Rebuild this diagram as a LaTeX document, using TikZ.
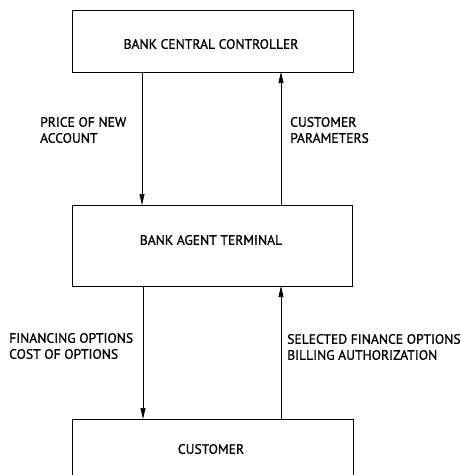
\documentclass[tikz,border=0pt]{standalone}
\usepackage{fontspec}
\setmainfont{PT Sans}
\newfontfamily\lblfont{PT Sans}[FakeBold=0.9]
\usetikzlibrary{arrows.meta}
\begin{document}
\begin{tikzpicture}[x=1pt,y=-1pt,
  box/.style={draw,line width=0.9pt},
  flow/.style={line width=0.7pt,-{Triangle[width=5pt,length=11pt]}},
  lbl/.style={font=\lblfont\fontsize{13.6}{16}\selectfont,align=left,anchor=west,inner sep=0pt},
  boxtxt/.style={font=\lblfont\fontsize{13.6}{16}\selectfont,inner sep=0pt}]
\useasboundingbox (0,0) rectangle (461,475);
\begin{scope}
\clip (0,0) rectangle (461,475);
\draw[box] (72,10) rectangle (353,72);
\draw[box] (72,205) rectangle (352,286);
\draw[box] (72,419) rectangle (353,490);
\end{scope}
\node[boxtxt] (t1) at (211,44) {BANK CENTRAL CONTROLLER};
\node[boxtxt] (t2) at (211,240) {BANK AGENT TERMINAL};
\node[boxtxt] (t3) at (211,449) {CUSTOMER};
\coordinate (a1s) at (142,72);
\coordinate (a1e) at (142,205);
\coordinate (a2s) at (281,205);
\coordinate (a2e) at (281,72);
\coordinate (a3s) at (143,286);
\coordinate (a3e) at (143,419);
\coordinate (a4s) at (281,419);
\coordinate (a4e) at (281,286);
\draw[flow] (a1s) -- (a1e);
\draw[flow] (a2s) -- (a2e);
\draw[flow] (a3s) -- (a3e);
\draw[flow] (a4s) -- (a4e);
\node[lbl] (l1) at (40,130) {PRICE OF NEW\\ACCOUNT};
\node[lbl] (l2) at (290,130) {CUSTOMER\\PARAMETERS};
\node[lbl] (l3) at (9,346) {FINANCING OPTIONS\\COST OF OPTIONS};
\node[lbl] (l4) at (287,347) {SELECTED FINANCE OPTIONS\\BILLING AUTHORIZATION};
\end{tikzpicture}
\end{document}
